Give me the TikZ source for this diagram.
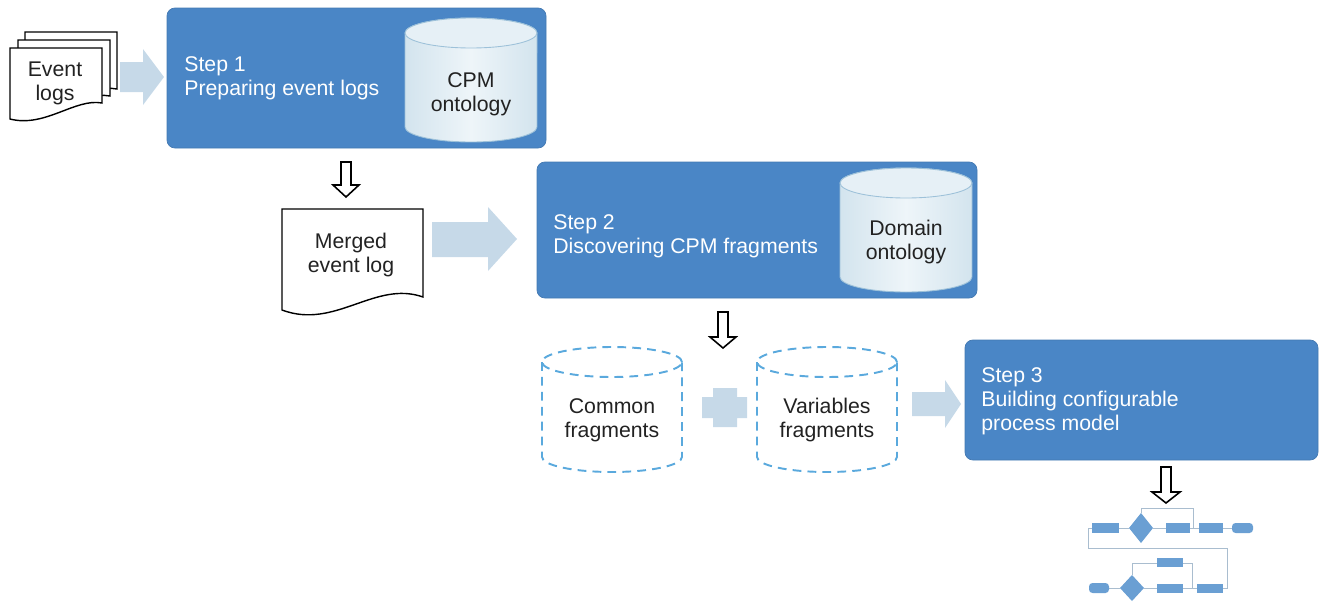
\documentclass[tikz,border=0pt]{standalone}
\usepackage{fontspec}
\setmainfont{Liberation Sans}
\usepackage{tikz}
\usetikzlibrary{positioning, calc}

\definecolor{stepblue}{HTML}{4A86C6}
\definecolor{lightarr}{HTML}{C6D9E8}
\definecolor{cylside}{HTML}{D3E4EE}
\definecolor{cylmid}{HTML}{EEF5F9}
\definecolor{cyltopc}{HTML}{E6F0F6}
\definecolor{cylline}{HTML}{9DC1D9}
\definecolor{dashblue}{HTML}{5AA9DD}
\definecolor{thumbblue}{HTML}{6A9FD3}
\definecolor{thumbline}{HTML}{A9BDCF}
\definecolor{txt}{HTML}{222222}

\begin{document}
\begin{tikzpicture}[x=0.02cm, y=-0.02cm,
  every node/.style={font=\fontsize{12.1}{13.7}\selectfont, inner sep=0pt, text=txt},
  stepbox/.style={fill=stepblue, draw=stepblue!90!black, line width=0.4pt, rounded corners=4.5pt},
  steptext/.style={anchor=west, align=left, text=white},
  lightarrow/.style={fill=lightarr, draw=none},
  hollowarrow/.style={draw=black, fill=white, line width=0.9pt, line join=miter},
  doc/.style={draw=black, fill=white, line width=0.8pt},
  cylbody/.style={left color=cylside, right color=cylside, middle color=cylmid, draw=cylline, line width=0.5pt},
  cyltop/.style={fill=cyltopc, draw=cylline, line width=0.5pt},
  dashcyl/.style={draw=dashblue, line width=1.1pt, dash pattern=on 5pt off 3.5pt},
  tbox/.style={fill=thumbblue},
  tline/.style={draw=thumbline, line width=0.4pt}]

\useasboundingbox (0,0) rectangle (1319,602);

% step boxes
\draw[stepbox] (167,8) rectangle (546,148);
\draw[stepbox] (537,162) rectangle (977,298);
\draw[stepbox] (965,340) rectangle (1318,460);

\node[steptext] (s1) at (184,78) {Step 1\\Preparing event logs};
\node[steptext] (s2) at (553,236) {Step 2\\Discovering CPM fragments};
\node[steptext] (s3) at (981,401) {Step 3\\Building configurable\\process model};

% ontologies
\path[cylbody] (405,33) -- (405,127) arc[start angle=180, end angle=360, x radius=1.32cm, y radius=0.3cm] -- (537,33) arc[start angle=0, end angle=180, x radius=1.32cm, y radius=0.3cm] -- cycle;
\draw[cyltop] (471,33) ellipse[x radius=1.32cm, y radius=0.3cm];
\node[align=center] (cpm) at (471,94) {CPM\\ontology};

\path[cylbody] (840,183) -- (840,277) arc[start angle=180, end angle=360, x radius=1.32cm, y radius=0.3cm] -- (972,183) arc[start angle=0, end angle=180, x radius=1.32cm, y radius=0.3cm] -- cycle;
\draw[cyltop] (906,183) ellipse[x radius=1.32cm, y radius=0.3cm];
\node[align=center] (dom) at (906,242) {Domain\\ontology};

% event logs
\draw[doc] (25,32) -- (117,32) -- (117,89) .. controls (90,84) and (60,110) .. (25,103) -- cycle;
\draw[doc] (18,40) -- (110,40) -- (110,96) .. controls (83,91) and (53,118) .. (18,111) -- cycle;
\draw[doc] (10,48) -- (102,48) -- (102,103) .. controls (75,98) and (45,128) .. (10,119) -- cycle;
\node[align=center] (ev) at (55,83) {Event\\logs};

\fill[lightarrow] (120,62) -- (143,62) -- (143,49) -- (164,77) -- (143,105) -- (143,92) -- (120,92) -- cycle;

% merged log
\draw[hollowarrow] (341,162) -- (341,185) -- (333,185) -- (346,197) -- (359,185) -- (351,185) -- (351,162) -- cycle;
\draw[doc] (282,209) -- (423,209) -- (423,297) .. controls (375,280) and (335,330) .. (282,310) -- cycle;
\node[align=center] (mel) at (351,255) {Merged\\event log};

\fill[lightarrow] (432,222) -- (488,222) -- (488,207) -- (517,239) -- (488,271) -- (488,257) -- (432,257) -- cycle;

% fragments
\draw[hollowarrow] (718,312) -- (718,337) -- (710,337) -- (723,348) -- (736,337) -- (728,337) -- (728,312) -- cycle;

\draw[dashcyl] (542,362) -- (542,457) arc[start angle=180, end angle=360, x radius=1.4cm, y radius=0.3cm] -- (682,362);
\draw[dashcyl] (612,362) ellipse[x radius=1.4cm, y radius=0.3cm];
\node[align=center] (cf) at (612,420) {Common\\fragments};

\fill[lightarrow] (713,388) -- (737,388) -- (737,397) -- (747,397) -- (747,418) -- (737,418) -- (737,427) -- (713,427) -- (713,418) -- (702,418) -- (702,397) -- (713,397) -- cycle;

\draw[dashcyl] (757,362) -- (757,457) arc[start angle=180, end angle=360, x radius=1.4cm, y radius=0.3cm] -- (897,362);
\draw[dashcyl] (827,362) ellipse[x radius=1.4cm, y radius=0.3cm];
\node[align=center] (vf) at (827,420) {Variables\\fragments};

\fill[lightarrow] (912,392) -- (945,392) -- (945,380) -- (961,404) -- (945,428) -- (945,416) -- (912,416) -- cycle;

% configurable model thumbnail
\draw[hollowarrow] (1161,467) -- (1161,492) -- (1152,492) -- (1166,503) -- (1180,492) -- (1171,492) -- (1171,467) -- cycle;

\draw[tline] (1088,528) -- (1092,528) (1119,528) -- (1129,528) (1153,528) -- (1166,528)
  (1190,528) -- (1199,528) (1223,528) -- (1232,528);
\draw[tline] (1141,513) -- (1141,508) -- (1193,508) -- (1193,528);
\draw[tline] (1088,528) -- (1088,548) -- (1227,548) -- (1227,588) -- (1223,588);
\draw[tline] (1109,588) -- (1120,588) (1144,588) -- (1157,588) (1183,588) -- (1197,588);
\draw[tline] (1132,575) -- (1132,563) -- (1157,563) (1183,563) -- (1192,563) -- (1192,588);

\fill[tbox] (1092,523) rectangle (1119,533);
\fill[tbox] (1141,513) -- (1153,528) -- (1141,543) -- (1129,528) -- cycle;
\fill[tbox] (1166,523) rectangle (1190,533);
\fill[tbox] (1199,523) rectangle (1223,533);
\fill[tbox, rounded corners=2pt] (1232,523) rectangle (1253,533);

\fill[tbox, rounded corners=2pt] (1089,583) rectangle (1109,593);
\fill[tbox] (1132,575) -- (1144,588) -- (1132,601) -- (1120,588) -- cycle;
\fill[tbox] (1157,558) rectangle (1183,567);
\fill[tbox] (1157,584) rectangle (1183,593);
\fill[tbox] (1197,584) rectangle (1223,593);

\end{tikzpicture}
\end{document}
